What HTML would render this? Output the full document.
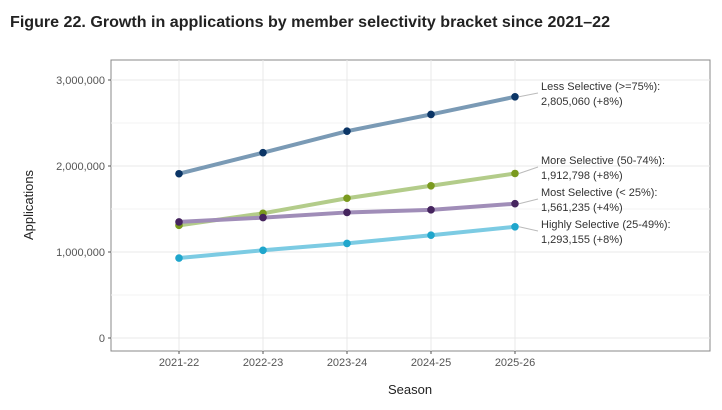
<!DOCTYPE html>
<html><head><meta charset="utf-8"><style>
body{margin:0;background:#fff;width:722px;height:405px;overflow:hidden}
svg text{font-family:"Liberation Sans",sans-serif}
</style></head><body>
<svg id="chart" width="722" height="405" xmlns="http://www.w3.org/2000/svg">
<text x="10" y="27" font-size="16" font-weight="bold" fill="#222" textLength="600" lengthAdjust="spacingAndGlyphs">Figure 22. Growth in applications by member selectivity bracket since 2021–22</text>
<rect x="111" y="60" width="599" height="291" fill="#fff" stroke="#888" stroke-width="1"/>
<g id="grid"></g><g id="axes"></g><g id="series"></g><g id="labels"></g>
<text transform="translate(33,205) rotate(-90)" text-anchor="middle" font-size="13" fill="#222">Applications</text>
<text x="410" y="394" text-anchor="middle" font-size="13" fill="#222">Season</text>
</svg>
<script>
const categories=["2021-22","2022-23","2023-24","2024-25","2025-26"];
const yTicks=[0,1000000,2000000,3000000];
const yTickLabels=["0","1,000,000","2,000,000","3,000,000"];
const seriesNames=["Less Selective (>=75%):","More Selective (50-74%):","Most Selective (< 25%):","Highly Selective (25-49%):"];
const lessValues=[1910000,2155000,2405000,2600000,2805060];
const moreValues=[1310000,1450000,1625000,1770000,1912798];
const mostValues=[1350000,1400000,1460000,1490000,1561235];
const highlyValues=[930000,1020000,1100000,1195000,1293155];
const valueLabels=["2,805,060 (+8%)","1,912,798 (+8%)","1,561,235 (+4%)","1,293,155 (+8%)"];
const labelY=[90,164,196,228];
const NS="http://www.w3.org/2000/svg";
const x=i=>179+i*84;
const y=v=>338-v*258/3000000;
function mk(tag,attrs,parent){const e=document.createElementNS(NS,tag);for(const k in attrs)e.setAttribute(k,attrs[k]);parent.appendChild(e);return e;}
const grid=document.getElementById('grid'),axes=document.getElementById('axes'),ser=document.getElementById('series'),lab=document.getElementById('labels');
for(let v=0;v<=3500000;v+=500000){const yy=y(v);if(yy<60)continue;
 const l=mk('line',{x1:111,x2:710,y1:yy,y2:yy,stroke:v%1000000?'#f3f3f3':'#e8e8e8','stroke-width':1},grid);
 
 }
categories.forEach((c,i)=>{
 const l=mk('line',{x1:x(i),x2:x(i),y1:60,y2:351,stroke:'#e8e8e8','stroke-width':1},grid);
 
 
 const t=mk('text',{x:x(i),y:366,'text-anchor':'middle','font-size':11,fill:'#555'},axes);t.textContent=c;
 
 
 mk('line',{x1:x(i),x2:x(i),y1:351,y2:354,stroke:'#555'},axes);
});
yTicks.forEach((v,i)=>{
 const t=mk('text',{x:105,y:y(v)+4,'text-anchor':'end','font-size':11,fill:'#555'},axes);t.textContent=yTickLabels[i];
 
 
 mk('line',{x1:108,x2:111,y1:y(v),y2:y(v),stroke:'#555'},axes);
});
const all=[lessValues,moreValues,mostValues,highlyValues];
const lineCols=['#7a9ab5','#b3cc8a','#a08db8','#7ccbe3'];
const dotCols=['#0b3566','#7a9a1e','#45245e','#1fa6cc'];
const names=['less-selective','more-selective','most-selective','highly-selective'];
all.forEach((vals,s)=>{
 const p=mk('polyline',{points:vals.map((v,i)=>x(i)+','+y(v)).join(' '),fill:'none',stroke:lineCols[s],'stroke-width':4,'stroke-linecap':'round'},ser);
 
 
});
all.forEach((vals,s)=>{
 vals.forEach((v,i)=>{const c=mk('circle',{cx:x(i),cy:y(v),r:3.8,fill:dotCols[s]},ser);
  
  });
 const lx=x(4),ly=y(vals[4]);
 mk('line',{x1:lx+4,y1:ly,x2:538,y2:labelY[s]+3,stroke:'#bbb','stroke-width':1},lab);
 const t=mk('text',{x:541,y:labelY[s],'font-size':11,fill:'#333'},lab);
 
 
 const a=mk('tspan',{x:541,dy:0},t);a.textContent=seriesNames[s];
 const b=mk('tspan',{x:541,dy:15},t);b.textContent=valueLabels[s];
});
</script>
</body></html>
